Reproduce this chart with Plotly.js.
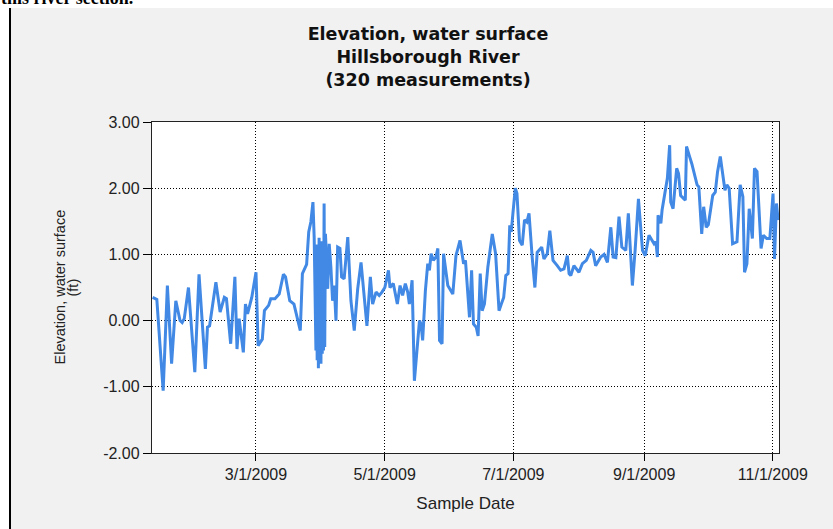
<!DOCTYPE html>
<html>
<head>
<meta charset="utf-8">
<script src="https://cdn.plot.ly/plotly-3.0.1.min.js"></script>
<style>html,body{margin:0;padding:0;background:#fff;}#chart{width:833px;height:529px;}</style>
</head>
<body>
<div id="chart"></div>
<script>
const sampleDates = [
 '2009-01-11','2009-01-13','2009-01-16','2009-01-18','2009-01-20','2009-01-22','2009-01-24','2009-01-25',
 '2009-01-26','2009-01-28','2009-01-31','2009-02-02','2009-02-05','2009-02-06','2009-02-07','2009-02-10',
 '2009-02-12','2009-02-14','2009-02-15','2009-02-17','2009-02-19','2009-02-20','2009-02-21','2009-02-23',
 '2009-02-24','2009-02-25','2009-02-27','2009-03-01','2009-03-02','2009-03-04','2009-03-05','2009-03-07',
 '2009-03-08','2009-03-10','2009-03-12','2009-03-14','2009-03-15','2009-03-17','2009-03-19','2009-03-22',
 '2009-03-23','2009-03-25','2009-03-26','2009-03-27','2009-03-28','2009-03-28 14:00',
 '2009-03-29 10:00','2009-03-29 17:00','2009-03-30 00:00','2009-03-30 07:00','2009-03-30 14:00','2009-03-30 22:00',
 '2009-03-31 05:00','2009-03-31 12:00','2009-03-31 19:00','2009-04-01 02:00','2009-04-01 10:00','2009-04-01 17:00',
 '2009-04-02 00:00','2009-04-02 07:00','2009-04-02 14:00','2009-04-02 22:00',
 '2009-04-03 05:00','2009-04-04','2009-04-04 17:00','2009-04-05 12:00','2009-04-06 07:00','2009-04-07 02:00',
 '2009-04-07 22:00','2009-04-08 17:00','2009-04-09 19:00','2009-04-10 14:00','2009-04-11 19:00','2009-04-13 12:00',
 '2009-04-15','2009-04-16 14:00','2009-04-18 05:00','2009-04-19 19:00','2009-04-21 07:00','2009-04-22 14:00',
 '2009-04-24 05:00','2009-04-25 07:00','2009-04-26 22:00','2009-04-28 10:00','2009-04-29 17:00','2009-05-01 02:00',
 '2009-05-02 19:00','2009-05-03 12:00','2009-05-05 02:00','2009-05-07','2009-05-08 07:00','2009-05-09 12:00',
 '2009-05-10 19:00','2009-05-11 22:00','2009-05-12 17:00','2009-05-14','2009-05-15 02:00','2009-05-17 12:00',
 '2009-05-18 05:00','2009-05-19','2009-05-20 07:00','2009-05-21 10:00','2009-05-22 05:00','2009-05-23',
 '2009-05-24 02:00','2009-05-25 07:00','2009-05-26 05:00','2009-05-27','2009-05-28 05:00','2009-05-28 22:00',
 '2009-05-30 22:00','2009-06-01 12:00','2009-06-02 07:00','2009-06-03 19:00','2009-06-05 17:00','2009-06-07 10:00',
 '2009-06-08 07:00','2009-06-10 05:00','2009-06-11 05:00','2009-06-12 02:00','2009-06-13 10:00','2009-06-14 07:00',
 '2009-06-15 07:00','2009-06-16 05:00','2009-06-17 07:00','2009-06-18 22:00','2009-06-21','2009-06-22 14:00',
 '2009-06-24 05:00','2009-06-25 07:00','2009-06-26 10:00','2009-06-27 10:00','2009-06-28 12:00','2009-06-29 07:00',
 '2009-06-30','2009-06-30 19:00','2009-07-01 22:00','2009-07-02 17:00','2009-07-03 22:00','2009-07-05 05:00',
 '2009-07-06 07:00','2009-07-07 10:00','2009-07-08 10:00','2009-07-09 22:00','2009-07-11 05:00','2009-07-12 07:00',
 '2009-07-14 10:00','2009-07-15 12:00','2009-07-17 02:00','2009-07-18 07:00','2009-07-19 19:00','2009-07-21 19:00',
 '2009-07-23 10:00','2009-07-25','2009-07-26 14:00','2009-07-27 10:00','2009-07-28 05:00','2009-07-29 17:00',
 '2009-08-01 02:00','2009-08-02 17:00','2009-08-04 14:00','2009-08-06 17:00','2009-08-07 19:00','2009-08-09',
 '2009-08-11 10:00','2009-08-13','2009-08-14 14:00','2009-08-16 05:00','2009-08-17 07:00','2009-08-18 14:00',
 '2009-08-20 02:00','2009-08-21 10:00','2009-08-23 07:00','2009-08-24 12:00','2009-08-26 10:00','2009-08-27 17:00',
 '2009-08-29 07:00','2009-08-31 05:00','2009-09-01 12:00','2009-09-03 07:00','2009-09-05 17:00','2009-09-06 14:00',
 '2009-09-07 07:00','2009-09-07 14:00','2009-09-08 22:00','2009-09-09 12:00','2009-09-10 10:00','2009-09-12',
 '2009-09-13 02:00','2009-09-13 14:00','2009-09-14 17:00','2009-09-15 12:00','2009-09-16 10:00','2009-09-17 07:00',
 '2009-09-18 07:00','2009-09-20 12:00','2009-09-21 02:00','2009-09-22 12:00','2009-09-23 14:00','2009-09-26 02:00',
 '2009-09-26 22:00','2009-09-28 07:00','2009-09-29 05:00','2009-09-30 10:00','2009-10-01 10:00','2009-10-03 12:00',
 '2009-10-04 17:00','2009-10-05 19:00','2009-10-07 02:00','2009-10-09 07:00','2009-10-10 05:00','2009-10-11 07:00',
 '2009-10-12 22:00','2009-10-15','2009-10-16 12:00','2009-10-17 19:00','2009-10-18 14:00','2009-10-19 17:00',
 '2009-10-20 19:00','2009-10-22 07:00','2009-10-23 07:00','2009-10-24 12:00','2009-10-26 10:00','2009-10-27 12:00',
 '2009-10-29 02:00','2009-10-30 14:00','2009-11-01 02:00','2009-11-01 19:00','2009-11-02 17:00','2009-11-03 12:00'
];

// Elevation, water surface (ft)
const elevationFt = [
 0.35,0.32,-1.06,0.53,-0.65,0.30,0.00,-0.03,
 0.03,0.50,-0.78,0.70,-0.73,-0.10,-0.08,0.58,
 0.13,0.35,0.33,-0.35,0.66,-0.43,0.03,-0.48,
 0.25,0.10,0.35,0.73,-0.38,-0.28,0.15,0.23,
 0.33,0.33,0.40,0.70,0.66,0.30,0.25,-0.15,
 0.71,0.85,1.34,1.49,1.79,1.26,
 -0.45,1.15,-0.60,1.00,-0.72,1.25,
 -0.55,1.10,-0.65,1.20,-0.50,1.05,
 -0.45,1.77,-0.40,1.31,
 1.11,0.48,1.16,0.81,0.30,0.53,
 0.00,1.11,1.09,0.66,0.63,1.26,
 0.30,-0.15,0.48,0.88,0.30,-0.08,
 0.66,0.25,0.43,0.38,0.43,0.50,
 0.76,0.50,0.56,0.25,0.53,0.38,
 0.56,0.43,0.25,0.61,-0.91,0.00,
 -0.05,-0.30,0.45,0.86,0.76,1.01,
 0.91,0.96,1.09,-0.30,-0.35,1.01,
 0.53,0.45,0.40,0.98,1.21,0.86,
 0.91,0.05,0.76,-0.05,-0.10,-0.23,
 0.71,0.15,0.25,0.81,1.31,1.01,
 0.15,0.25,0.35,0.68,0.71,1.44,
 1.34,1.62,2.00,1.92,1.21,1.14,
 1.52,1.49,1.62,0.96,0.50,1.03,
 1.11,0.93,1.01,1.36,0.91,0.83,
 0.76,0.78,0.98,0.71,0.68,0.83,
 0.73,0.86,0.91,1.06,1.03,0.83,
 0.96,1.00,0.88,1.41,0.96,0.95,
 1.57,1.11,1.06,1.62,0.53,1.06,
 1.84,1.06,0.98,1.29,1.16,1.19,
 0.96,1.59,1.47,1.67,1.84,2.15,
 2.65,1.79,1.69,2.00,2.30,2.22,
 1.89,1.82,2.63,2.48,2.37,2.05,
 2.02,1.31,1.72,1.41,1.45,1.89,
 1.94,2.25,2.48,1.97,2.05,2.00,
 1.16,1.19,2.05,1.87,0.73,0.86,
 1.69,1.24,2.30,2.25,1.09,1.29,
 1.24,1.24,1.92,0.93,1.77,1.52
];

const titleLines = ['Elevation, water surface', 'Hillsborough River', '(320 measurements)'];
const yTickValues = [-2, -1, 0, 1, 2, 3];
const yTickLabels = ['-2.00', '-1.00', '0.00', '1.00', '2.00', '3.00'];
const xAxisTitle = 'Sample Date';
const yAxisTitleLines = ['Elevation, water surface', '(ft)'];
const clippedDocText = 'this river section.';

const W = 833, H = 529;
const plotL = 152, plotR = 779, plotT = 122, plotB = 453;
const px = v => (v - plotL) / (plotR - plotL);
const py = v => (plotB - v) / (plotB - plotT);

const trace = {
  x: sampleDates,
  y: elevationFt,
  type: 'scatter',
  mode: 'lines',
  line: {color: '#4189e4', width: 3},
  hoverinfo: 'x+y'
};

const tickFont = {family: 'Liberation Sans, Arial, sans-serif', size: 16, color: '#222'};

const layout = {
  width: W, height: H,
  margin: {l: plotL, r: W - plotR, t: plotT, b: H - plotB, pad: 0},
  paper_bgcolor: '#f1f1f1',
  plot_bgcolor: '#ffffff',
  showlegend: false,
  title: {
    text: titleLines.join('<br>'),
    font: {family: 'DejaVu Sans, sans-serif', size: 17.5, weight: 'bold', color: '#111'},
    x: 428 / W, xref: 'container', xanchor: 'center',
    y: 1 - 40 / H, yref: 'container', yanchor: 'top'
  },
  xaxis: {
    type: 'date',
    range: ['2009-01-10 17:00', '2009-11-03 22:00'],
    tick0: '2009-01-01', dtick: 'M2',
    tickformat: '%-m/%-d/%Y',
    ticks: 'outside', ticklen: 7, tickcolor: '#000', tickwidth: 1,
    showline: true, linecolor: '#222', linewidth: 1.2, mirror: true,
    showgrid: true, gridcolor: '#000', gridwidth: 1, griddash: '1px,2px',
    zeroline: false,
    tickfont: tickFont,
    title: {text: xAxisTitle, font: {family: 'Liberation Sans, Arial, sans-serif', size: 17, color: '#222'}, standoff: 14}
  },
  yaxis: {
    range: [-2, 3],
    tickmode: 'array', tickvals: yTickValues, ticktext: yTickLabels,
    ticks: 'outside', ticklen: 8, tickcolor: '#000', tickwidth: 1,
    showline: true, linecolor: '#222', linewidth: 1.2, mirror: true,
    showgrid: true, gridcolor: '#000', gridwidth: 1, griddash: '1px,2px',
    zeroline: false,
    tickfont: tickFont
  },
  annotations: [
    {text: yAxisTitleLines[0], xref: 'paper', yref: 'paper', x: px(59), y: 0.5, textangle: -90,
     xanchor: 'center', yanchor: 'middle', showarrow: false,
     font: {family: 'Liberation Sans, Arial, sans-serif', size: 14.5, color: '#222'}},
    {text: yAxisTitleLines[1], xref: 'paper', yref: 'paper', x: px(72), y: 0.5, textangle: -90,
     xanchor: 'center', yanchor: 'middle', showarrow: false,
     font: {family: 'Liberation Sans, Arial, sans-serif', size: 14.5, color: '#222'}},
    {text: '<b>' + clippedDocText + '</b>', xref: 'paper', yref: 'paper', x: px(-1), y: py(10),
     xanchor: 'left', yanchor: 'bottom', showarrow: false,
     font: {family: 'Liberation Serif, Times New Roman, serif', size: 18, color: '#000'}}
  ],
  shapes: [
    {type: 'rect', xref: 'paper', yref: 'paper', x0: px(-5), x1: px(W + 5), y0: py(8), y1: py(-5),
     fillcolor: '#ffffff', line: {width: 0}, layer: 'below'},
    {type: 'rect', xref: 'paper', yref: 'paper', x0: px(-5), x1: px(9), y0: py(H + 5), y1: py(-5),
     fillcolor: '#ffffff', line: {width: 0}, layer: 'below'},
    {type: 'line', xref: 'paper', yref: 'paper', x0: px(10), x1: px(10), y0: py(8), y1: py(H + 5),
     line: {color: '#000', width: 2}}
  ]
};

Plotly.newPlot('chart', [trace], layout, {displayModeBar: false, staticPlot: true});
</script>
</body>
</html>
